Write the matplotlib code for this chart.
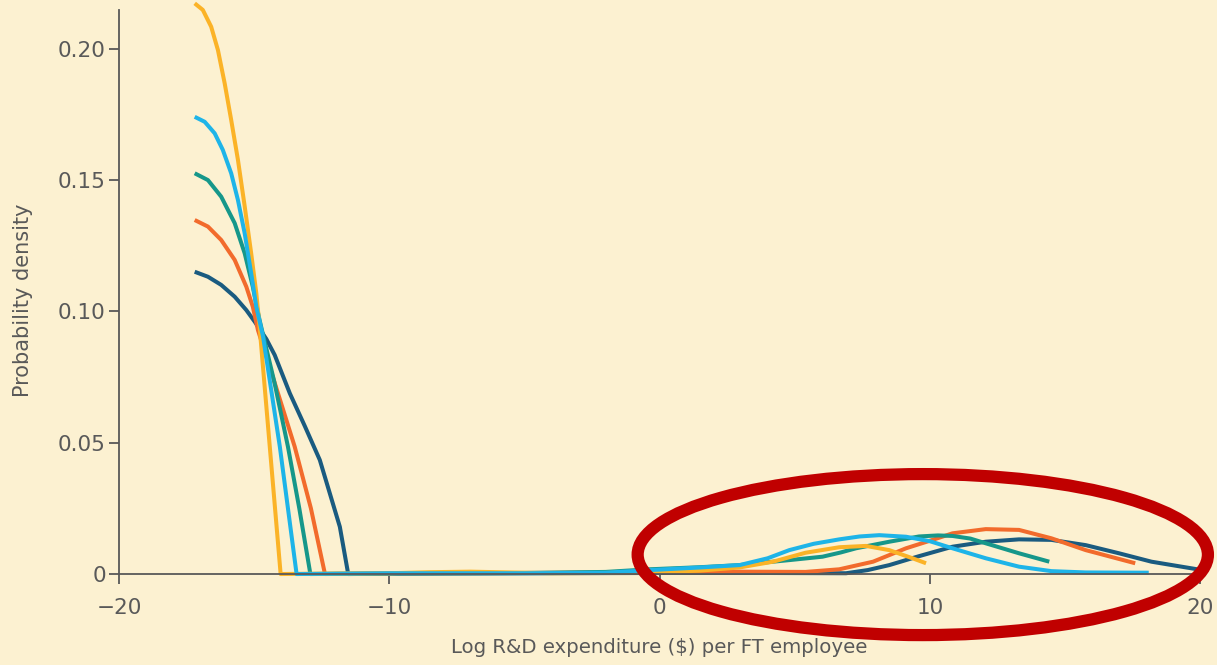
import matplotlib
matplotlib.use("Agg")
import matplotlib.pyplot as plt
from matplotlib.patches import Ellipse

# colours of the five density curves
colors = {
    "dark": "#1a5b80",
    "orange": "#f26b2c",
    "teal": "#16978a",
    "yellow": "#fbb327",
    "cyan": "#1eb4e8",
}

# values: x = log R&D per FT employee, y = density
dark_x = [-17.20, -16.71, -16.22, -15.72, -15.29, -14.98, -14.55, -14.24, -13.68, -13.12, -12.57,
          -11.83, -11.52,
          -8, -4, 0, 4, 6.9, 7.7, 8.5, 9.6, 10.84, 12.07, 13.3, 14.5, 15.77, 17.0, 18.2, 19.9]
dark_y = [0.1151, 0.1132, 0.1101, 0.1056, 0.1005, 0.0961, 0.0895, 0.0834, 0.0688, 0.0562, 0.0434,
          0.0180, 0.0,
          0.0002, 0.0003, 0.0004, 0.0004, 0.0003, 0.0015, 0.0034, 0.0068, 0.0104, 0.0123, 0.0132,
          0.0130, 0.0110, 0.0079, 0.0047, 0.0018]

orange_x = [-17.20, -16.71, -16.22, -15.72, -15.29, -15.05, -14.86, -14.2, -13.5, -12.9, -12.38,
            -10, -5, -2, 0, 2.96, 5.4, 6.65, 7.9, 9.12, 10.1, 10.84, 12.07, 13.3, 14.5, 15.77, 17.6]
orange_y = [0.1348, 0.1323, 0.1272, 0.1196, 0.1094, 0.1018, 0.0929, 0.0715, 0.0485, 0.0250, 0.0,
            0.0002, 0.0004, 0.0006, 0.0008, 0.0009, 0.0008, 0.0018, 0.0047, 0.0098, 0.0130, 0.0155,
            0.0171, 0.0168, 0.0136, 0.0091, 0.0041]

teal_x = [-17.20, -16.71, -16.22, -15.72, -15.35, -15.05, -14.80, -14.25, -13.75, -13.33, -12.92,
          -10, -5, -2, -0.37, 1.5, 2.96, 4.0, 4.8, 6.03, 6.7, 7.27, 8.5, 9.6, 10.3, 10.84, 11.5,
          12.07, 13.3, 14.42]
teal_y = [0.1526, 0.1500, 0.1437, 0.1336, 0.1221, 0.1094, 0.0967, 0.0730, 0.0485, 0.0250, 0.0,
          0.0002, 0.0004, 0.0008, 0.0018, 0.0026, 0.0034, 0.0045, 0.0053, 0.0066, 0.0082, 0.0098,
          0.0123, 0.0143, 0.0147, 0.0145, 0.0135, 0.0117, 0.0079, 0.0047]

yellow_x = [-17.20, -16.90, -16.59, -16.34, -16.09, -15.85, -15.60, -15.35, -15.11, -14.92, -14.80,
            -14.41, -14.02,
            -12, -10, -8.5, -7, -5.5, -4, -2, 0, 1.5, 2.96, 4.2, 5.4, 6.65, 7.64, 8.5, 9.36, 9.86]
yellow_y = [0.2173, 0.2148, 0.2084, 0.1995, 0.1868, 0.1729, 0.1577, 0.1400, 0.1221, 0.1069, 0.0942,
            0.0470, 0.0,
            0.0002, 0.0003, 0.0007, 0.0009, 0.0006, 0.0003, 0.0004, 0.0008, 0.0013, 0.0025, 0.0047,
            0.0081, 0.0102, 0.0107, 0.0091, 0.0060, 0.0041]

cyan_x = [-17.20, -16.83, -16.46, -16.16, -15.85, -15.60, -15.35, -15.11, -14.92, -14.67, -14.05,
          -13.43,
          -10, -5, -2, -0.37, 1.5, 2.96, 4.0, 4.8, 5.7, 6.65, 7.4, 8.13, 9.12, 10.0, 10.84, 12.07,
          13.3, 14.5, 15.77, 18.1]
cyan_y = [0.1741, 0.1722, 0.1678, 0.1615, 0.1526, 0.1424, 0.1297, 0.1145, 0.1018, 0.0904, 0.0485,
          0.0,
          0.0003, 0.0003, 0.0005, 0.0015, 0.0025, 0.0034, 0.0060, 0.0091, 0.0115, 0.0132, 0.0143,
          0.0148, 0.0142, 0.0125, 0.0098, 0.0060, 0.0028, 0.0011, 0.0006, 0.0005]

series = [
    (dark_x, dark_y, colors["dark"]),
    (orange_x, orange_y, colors["orange"]),
    (teal_x, teal_y, colors["teal"]),
    (yellow_x, yellow_y, colors["yellow"]),
    (cyan_x, cyan_y, colors["cyan"]),
]

x_ticks = [-20, -10, 0, 10, 20]
x_ticklabels = ["\u221220", "\u221210", "0", "10", "20"]
y_ticks = [0, 0.05, 0.10, 0.15, 0.20]
y_ticklabels = ["0", "0.05", "0.10", "0.15", "0.20"]

# red highlight ring (annotation): centre, width, height in data units
ring_center = (9.74, 0.0074)
ring_size = (21.1, 0.0613)

bg = "#fcf1d1"
grey = "#595959"

plt.rcParams["font.family"] = ["DejaVu Sans"]

fig = plt.figure(figsize=(12.17, 6.65), dpi=100, facecolor=bg)
ax = fig.add_axes([0.0978, 0.1368, 0.8883, 0.8629])
ax.set_facecolor(bg)

for xs, ys, c in series:
    ax.plot(xs, ys, color=c, lw=2.9, solid_joinstyle="round", solid_capstyle="butt",
            clip_on=False)

ax.set_xlim(-20, 20)
ax.set_ylim(0, 0.2185)

for s in ["top", "right"]:
    ax.spines[s].set_visible(False)
for s in ["left", "bottom"]:
    ax.spines[s].set_color(grey)
    ax.spines[s].set_linewidth(1.3)
ax.spines["left"].set_bounds(0, 0.2148)

ax.set_xticks(x_ticks)
ax.set_xticklabels(x_ticklabels)
ax.set_yticks(y_ticks)
ax.set_yticklabels(y_ticklabels)
ax.tick_params(axis="both", colors=grey, labelcolor=grey, length=7.5, width=1.3,
               labelsize=15.5)
ax.tick_params(axis="x", pad=10)
ax.tick_params(axis="y", pad=2)

ax.set_xlabel("Log R&D expenditure ($) per FT employee", fontsize=14.2, color=grey)
ax.xaxis.set_label_coords(0.5, -0.111)
ax.set_ylabel("Probability density", fontsize=15, color=grey)
ax.yaxis.set_label_coords(-0.0796, 0.477)

ring = Ellipse(ring_center, ring_size[0], ring_size[1], fill=False, edgecolor="#c00000",
               lw=8.8, clip_on=False, zorder=5)
ax.add_patch(ring)

fig.savefig("out.png", dpi=100, facecolor=bg)
